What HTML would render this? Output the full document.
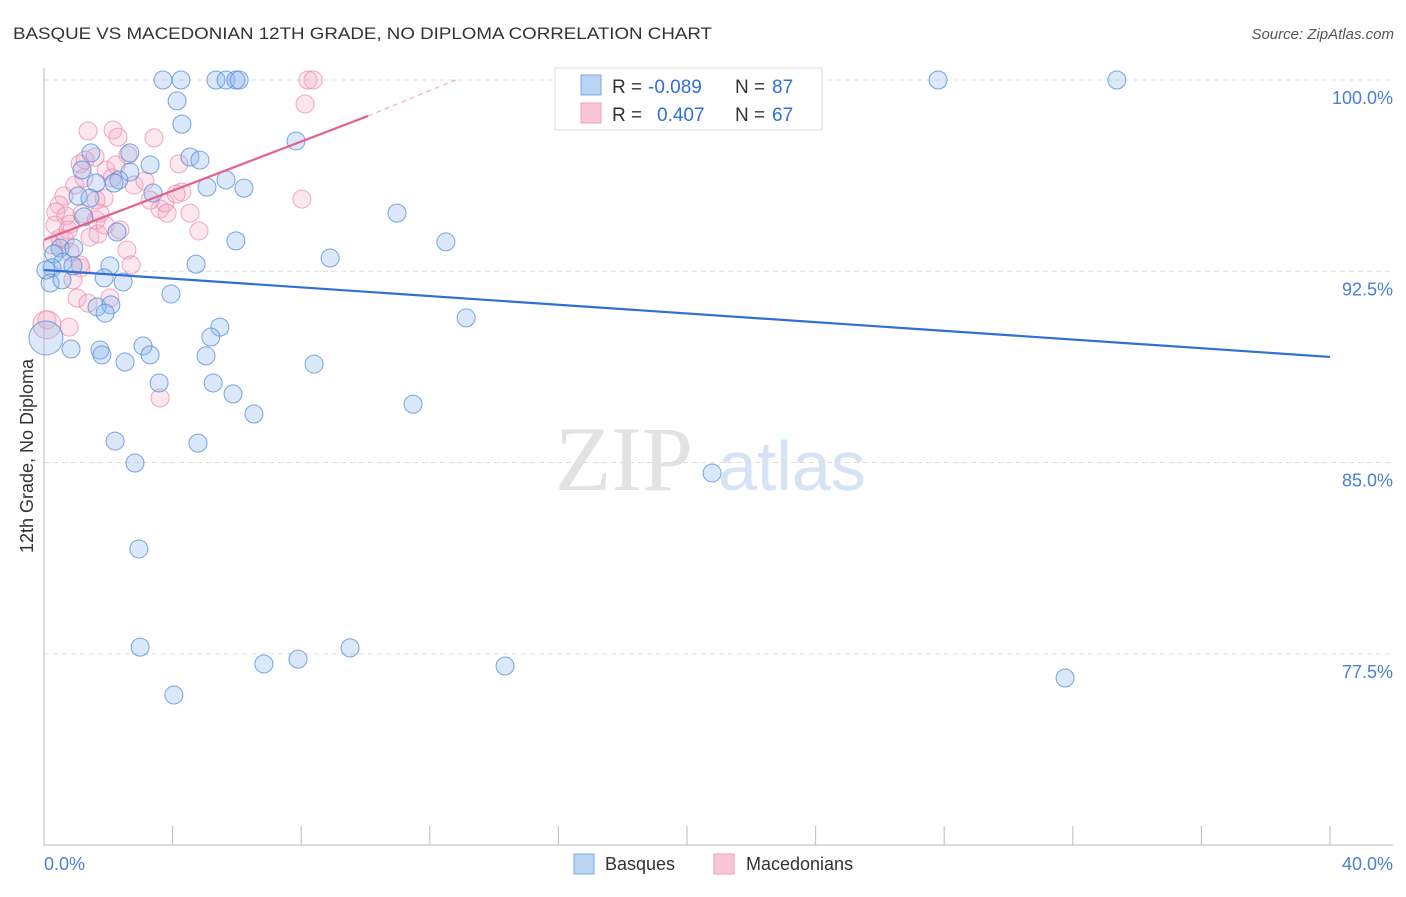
<!DOCTYPE html>
<html><head><meta charset="utf-8"><style>
body{margin:0;background:#fff;font-family:"Liberation Sans",sans-serif;}
</style></head><body>
<svg width="1406" height="892" xmlns="http://www.w3.org/2000/svg" font-family="Liberation Sans, sans-serif">
<text x="13" y="39" font-size="17" fill="#333" textLength="699" lengthAdjust="spacingAndGlyphs">BASQUE VS MACEDONIAN 12TH GRADE, NO DIPLOMA CORRELATION CHART</text>
<text x="1394" y="39" font-size="15" fill="#555" font-style="italic" text-anchor="end">Source: ZipAtlas.com</text>
<g>
<text x="555" y="490" font-size="92" fill="#e2e2e2" font-family="Liberation Serif, serif">ZIP</text>
<text x="718" y="490" font-size="70" fill="#d5e3f5">atlas</text>
</g>
<g id="grid"></g>
<line x1="44" y1="68" x2="44" y2="845" stroke="#bbb"/>
<line x1="44" y1="845" x2="1393" y2="845" stroke="#bbb"/>
<g id="xticks"></g>
<text x="44" y="870" font-size="18" fill="#4a7fd4">0.0%</text>
<text x="1393" y="870" font-size="18" fill="#4a7fd4" text-anchor="end">40.0%</text>
<text transform="translate(33,456) rotate(-90)" font-size="18" fill="#333" text-anchor="middle">12th Grade, No Diploma</text>
<g id="pts"></g>
<g id="lines"></g>
<g>
<rect x="555" y="68" width="267" height="62" fill="#fff" stroke="#ddd"/>
<rect x="581" y="75" width="20" height="20" fill="#b9d3f5" stroke="#7aa7e6"/>
<rect x="581" y="103" width="20" height="20" fill="#f9c6d6" stroke="#eea0b8"/>
<text x="612" y="93" font-size="19" fill="#333">R =</text>
<text x="648" y="93" font-size="19" fill="#2f6fd6">-0.089</text>
<text x="735" y="93" font-size="19" fill="#333">N =</text>
<text x="772" y="93" font-size="19" fill="#2f6fd6">87</text>
<text x="612" y="121" font-size="19" fill="#333">R =</text>
<text x="657" y="121" font-size="19" fill="#2f6fd6">0.407</text>
<text x="735" y="121" font-size="19" fill="#333">N =</text>
<text x="772" y="121" font-size="19" fill="#2f6fd6">67</text>
</g>
<g>
<rect x="574" y="854" width="20" height="20" fill="#b9d3f5" stroke="#7aa7e6"/>
<text x="605" y="870" font-size="18" fill="#333">Basques</text>
<rect x="714" y="854" width="20" height="20" fill="#f9c6d6" stroke="#eea0b8"/>
<text x="746" y="870" font-size="18" fill="#333">Macedonians</text>
</g>
</svg>
<script>
const yTicks=[100,92.5,85,77.5];
const yTickLabels=["100.0%","92.5%","85.0%","77.5%"];
const xTickVals=[0,4,8,12,16,20,24,28,32,36,40];
const blueX=[3.70,4.26,5.35,5.66,5.97,6.07,27.81,33.37,4.14,4.29,7.84,1.46,2.67,4.54,4.85,3.30,1.18,2.67,2.33,2.18,5.66,1.62,3.39,5.07,6.22,1.06,1.43,1.24,10.98,2.27,5.97,12.50,0.50,0.93,0.31,8.90,0.59,4.73,2.05,0.25,0.90,1.87,2.46,0.19,0.56,3.95,1.65,2.08,1.90,13.13,5.47,5.19,0.84,1.74,1.80,3.08,3.30,5.04,2.52,8.40,3.58,5.26,5.88,11.48,6.53,2.21,4.79,20.78,2.83,2.95,2.99,9.52,6.84,7.90,14.34,4.04,31.76,0.06];
const blueY=[100,100,100,100,100,100,100,100,99.18,98.27,97.61,97.14,97.14,96.98,96.86,96.67,96.47,96.39,96.08,95.96,96.08,95.96,95.57,95.80,95.76,95.45,95.37,94.63,94.78,94.04,93.69,93.65,93.41,93.41,93.18,93.02,92.86,92.78,92.71,92.63,92.71,92.24,92.08,92.04,92.16,91.61,91.10,91.18,90.86,90.67,90.31,89.92,89.45,89.41,89.22,89.57,89.22,89.18,88.94,88.86,88.12,88.12,87.69,87.29,86.90,85.84,85.76,84.59,84.98,81.61,77.76,77.73,77.10,77.29,77.02,75.88,76.55,92.55];
const pinkX=[8.21,8.37,8.12,1.37,2.15,2.30,3.42,1.12,1.28,1.59,1.93,2.61,2.24,4.20,4.29,0.96,1.87,2.80,3.14,0.62,0.47,0.37,0.68,0.81,1.18,1.62,1.74,3.61,3.76,3.83,4.54,0.50,1.43,1.68,2.58,2.71,1.15,0.90,1.03,1.37,2.05,0.09,0.78,3.61,4.82,8.02,0.65,0.34,0.75,0.25,1.12,1.90,2.36,4.11,1.24,2.12,0.81,1.62,3.30];
const pinkY=[100,100,99.06,98.0,98.04,97.76,97.73,96.71,96.86,96.98,96.47,97.06,96.67,96.71,95.61,95.88,95.37,95.88,96.04,95.45,95.10,94.82,94.67,94.35,94.75,94.51,94.78,94.94,95.18,94.78,94.78,93.80,93.84,93.96,93.33,92.75,92.63,92.16,91.45,91.25,91.45,90.59,90.31,87.53,94.08,95.33,93.73,94.31,94.12,93.53,92.75,94.31,94.12,95.53,96.16,96.16,93.25,95.29,95.29];
const bigBlue=[[0.06,89.88]];
const bigPink=[[0.09,90.4]];
const blueLine=[[0,92.55],[40,89.14]];
const pinkLine=[[0,93.73],[10.08,98.59],[12.8,100]];
const X=v=>44+v/40*1286;
const Y=v=>80+(100-v)*25.5;
const NS="http://www.w3.org/2000/svg";
function mk(t,a,p){const e=document.createElementNS(NS,t);for(const k in a)e.setAttribute(k,a[k]);p.appendChild(e);return e;}
const grid=document.getElementById('grid');
yTicks.forEach((t,i)=>{
 const l=mk('line',{x1:44,x2:1393,y1:Y(t),y2:Y(t),stroke:'#ddd','stroke-dasharray':'5,4'},grid);
 
 
 const tx=mk('text',{x:1393,y:Y(t)+24,'font-size':18,fill:'#4a7fd4','text-anchor':'end'},grid);
 tx.textContent=yTickLabels[i];
 
 
});
const xt=document.getElementById('xticks');
xTickVals.forEach(v=>{
 const l=mk('line',{x1:X(v),x2:X(v),y1:826,y2:845,stroke:'#bbb'},xt);
 
 
});
const pts=document.getElementById('pts');
function dot(x,y,r,c){
 const f=c==='b'?'rgba(140,182,236,0.32)':'rgba(245,170,196,0.28)';
 const s=c==='b'?'rgba(80,135,220,0.75)':'rgba(235,140,170,0.75)';
 const e=mk('circle',{cx:X(x),cy:Y(y),r:r,fill:f,stroke:s,'stroke-width':1},pts);
 
 
}
pinkX.forEach((x,i)=>dot(x,pinkY[i],9,'p'));
bigPink.forEach(p=>dot(p[0],p[1],14,'p'));
blueX.forEach((x,i)=>dot(x,blueY[i],9,'b'));
bigBlue.forEach(p=>dot(p[0],p[1],17,'b'));
const ln=document.getElementById('lines');
const bl=mk('line',{x1:X(blueLine[0][0]),y1:Y(blueLine[0][1]),x2:X(blueLine[1][0]),y2:Y(blueLine[1][1]),stroke:'#2f6fd6','stroke-width':2.2},ln);


const pl=mk('line',{x1:X(pinkLine[0][0]),y1:Y(pinkLine[0][1]),x2:X(pinkLine[1][0]),y2:Y(pinkLine[1][1]),stroke:'#e4628a','stroke-width':2.2},ln);


const pd=mk('line',{x1:X(pinkLine[1][0]),y1:Y(pinkLine[1][1]),x2:X(pinkLine[2][0]),y2:Y(pinkLine[2][1]),stroke:'#f0a0b8','stroke-width':1,'stroke-dasharray':'5,4'},ln);


</script>
</body></html>
